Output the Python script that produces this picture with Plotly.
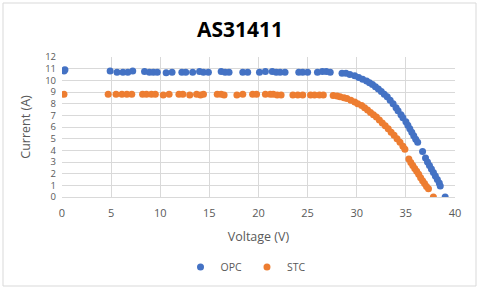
import plotly.graph_objects as go

opc_v = [0.2, 0.3, 4.9, 5.6, 6.2, 6.7, 7.2, 8.4, 8.9, 9.3, 9.7, 10.6, 11.2, 12.2, 12.6, 13.3,
         14.0, 14.4, 14.9, 16.2, 16.6, 17.0, 18.4, 18.9, 20.1, 20.7, 21.4, 21.8, 22.2, 22.7,
         24.1, 24.5, 25.0, 26.0, 26.5, 26.9, 27.3, 28.5, 28.9, 29.3, 29.8, 30.2, 30.6, 31.0,
         31.3, 31.6, 31.9, 32.2, 32.5, 32.8, 33.1, 33.4, 33.7, 34.0, 34.2, 34.5, 34.7, 35.0,
         35.2, 35.4, 35.6, 35.8, 36.0, 36.2, 36.7, 37.0, 37.2, 37.4, 37.6, 37.8, 38.0, 38.2,
         38.4, 38.5, 39.0]
opc_i = [10.8, 10.9, 10.8, 10.7, 10.7, 10.7, 10.8, 10.75, 10.7, 10.7, 10.7, 10.65, 10.7, 10.7, 10.7, 10.7,
         10.75, 10.7, 10.7, 10.75, 10.7, 10.7, 10.7, 10.7, 10.7, 10.75, 10.75, 10.7, 10.7, 10.7,
         10.7, 10.7, 10.7, 10.7, 10.75, 10.75, 10.7, 10.6, 10.6, 10.5, 10.4, 10.25, 10.1, 9.95,
         9.8, 9.65, 9.45, 9.25, 9.05, 8.8, 8.6, 8.3, 8.0, 7.65, 7.4, 7.05, 6.8, 6.45,
         6.15, 5.85, 5.55, 5.25, 4.95, 4.7, 3.9, 3.35, 3.0, 2.7, 2.4, 2.1, 1.8, 1.5,
         1.2, 0.95, 0.0]

stc_v = [0.2, 4.7, 5.5, 6.1, 6.6, 7.1, 8.2, 8.6, 9.1, 9.5, 10.3, 10.9, 11.9, 12.3, 13.0,
         13.7, 14.1, 14.4, 15.8, 16.2, 16.5, 17.8, 18.4, 19.4, 19.8, 20.7, 21.2, 21.5, 21.9,
         22.3, 23.5, 24.0, 24.5, 25.3, 25.7, 26.2, 26.6, 27.6, 28.0, 28.3, 28.7, 29.0, 29.4,
         29.8, 30.1, 30.5, 30.8, 31.1, 31.4, 31.7, 32.0, 32.3, 32.6, 32.9, 33.2, 33.5, 33.8,
         34.1, 34.4, 34.7, 34.9, 35.3, 35.5, 35.7, 35.9, 36.1, 36.3, 36.5, 36.7, 36.9, 37.1,
         37.3, 37.8]
stc_i = [8.8, 8.8, 8.8, 8.8, 8.8, 8.8, 8.8, 8.8, 8.8, 8.8, 8.75, 8.8, 8.8, 8.8, 8.75,
         8.8, 8.75, 8.8, 8.8, 8.8, 8.75, 8.75, 8.8, 8.8, 8.8, 8.8, 8.8, 8.8, 8.75,
         8.75, 8.75, 8.75, 8.75, 8.75, 8.75, 8.75, 8.75, 8.7, 8.65, 8.6, 8.5, 8.45, 8.3,
         8.15, 8.0, 7.85, 7.65, 7.45, 7.25, 7.05, 6.85, 6.6, 6.35, 6.1, 5.85, 5.55, 5.3,
         5.0, 4.7, 4.35, 4.1, 3.25, 2.95, 2.7, 2.45, 2.2, 1.95, 1.65, 1.4, 1.15, 0.9,
         0.7, 0.0]

x_ticks = [0, 5, 10, 15, 20, 25, 30, 35, 40]
y_ticks = list(range(0, 13))

grey = "#595959"
font = "Open Sans"

fig = go.Figure()
fig.add_trace(go.Scatter(x=opc_v, y=opc_i, mode="markers", name="OPC",
                         marker=dict(color="#4472C4", size=7)))
fig.add_trace(go.Scatter(x=stc_v, y=stc_i, mode="markers", name="STC",
                         marker=dict(color="#ED7D31", size=7)))

L, R, T, B = 62, 455, 57, 197
W, H = 480, 290
pw, ph = R - L, B - T

def px(xp):
    return (xp - L) / pw

def py(yp):
    return (B - yp) / ph

fig.update_layout(
    width=W, height=H,
    margin=dict(l=L, r=W - R, t=T, b=H - B, autoexpand=False),
    paper_bgcolor="white", plot_bgcolor="white",
    font=dict(family=font, color=grey, size=9),
    title=dict(text="<b>AS31411</b>", x=0.5, xanchor="center", y=1 - 30 / H,
               yanchor="middle", yref="container",
               font=dict(family=font, size=21, color="black")),
    showlegend=True,
    legend=dict(orientation="h", x=px(246), xanchor="center", y=py(267), yanchor="middle",
                font=dict(size=10.5, color=grey), itemwidth=30, tracegroupgap=0),
    xaxis=dict(range=[0, 40], tickvals=x_ticks, showgrid=True, gridcolor="#d9d9d9",
               gridwidth=1, zeroline=False, showline=True, linecolor="#d9d9d9",
               ticks="", tickfont=dict(size=11, color=grey), automargin=False,
               ticklabelstandoff=6,
               title=dict(text="Voltage (V)", font=dict(size=12.5, color=grey), standoff=13)),
    yaxis=dict(range=[0, 12], tickvals=y_ticks, showgrid=True, gridcolor="#d9d9d9",
               gridwidth=1, zeroline=False, showline=False, automargin=False,
               ticks="", tickfont=dict(size=9.5, color=grey), ticklabelstandoff=5,
               title=dict(text="Current (A)", font=dict(size=12.5, color=grey), standoff=11)),
    shapes=[dict(type="rect", xref="paper", yref="paper",
                 x0=px(3), x1=px(476), y0=py(286), y1=py(3),
                 line=dict(color="#d9d9d9", width=1), fillcolor="rgba(0,0,0,0)",
                 layer="below")],
)

fig.write_html("out.html", config={"displayModeBar": False},
               post_script="document.body.style.margin='0';document.body.style.overflow='hidden';")
